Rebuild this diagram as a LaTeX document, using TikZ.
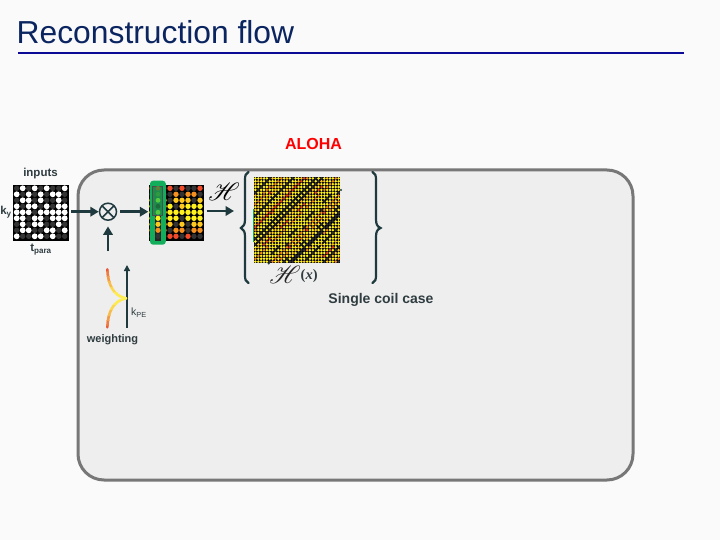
\documentclass[tikz,border=0pt]{standalone}
\usepackage{fontspec}
\usepackage{mathrsfs}
\setmainfont{Liberation Sans}
\newfontfamily\serifbf{Liberation Serif}
\usetikzlibrary{arrows.meta,calc}
\definecolor{slidebg}{HTML}{FAFAFB}
\definecolor{panel}{HTML}{EEEEEE}
\definecolor{panelline}{HTML}{777777}
\definecolor{ink}{HTML}{1F3A3F}
\definecolor{txt}{HTML}{2F3C40}
\definecolor{titleblue}{HTML}{0B2560}
\definecolor{rulenavy}{HTML}{0A0A96}
\definecolor{hk0}{HTML}{333333}
\definecolor{hk1}{HTML}{F04A2A}
\definecolor{hk2}{HTML}{F59020}
\definecolor{hk3}{HTML}{FFC820}
\definecolor{hk4}{HTML}{FFF01F}
\definecolor{greenbar}{HTML}{12AE5C}
\definecolor{greeninner}{HTML}{1E8A4C}
\definecolor{gdotA}{HTML}{5F7F3A}
\definecolor{gdotB}{HTML}{2F9A40}
\definecolor{gdotC}{HTML}{55C840}
\definecolor{gdotD}{HTML}{1D6A3A}
\tikzset{
  x=1pt,y=-1pt,
  framebox/.style={draw=none,fill=black,inner sep=0pt,minimum width=#1,minimum height=#1},
  flowarrow/.style={draw=ink,line width=2.7pt,-{Triangle[length=8.5pt,width=9.5pt]}},
  thinarrow/.style={draw=ink,line width=1.5pt,-{Triangle[length=6pt,width=6pt]}},
  bracepath/.style={draw=ink,line width=2.2pt,line cap=round},
  boldlabel/.style={font=\bfseries\fontsize{#1}{#1}\selectfont,text=txt,inner sep=0pt},
}
\newcommand{\maskdata}{0,1,0,1,0,1,0,0,1,
1,0,1,0,1,0,1,1,0,
0,1,1,0,1,0,0,1,0,
1,0,1,1,0,1,0,1,1,
1,1,1,0,1,1,1,1,1,
1,1,0,1,1,0,1,1,1,
0,1,0,1,1,0,0,1,0,
0,1,1,0,0,1,1,0,1,
1,0,0,1,1,0,1,0,0}
\newcommand{\colordata}{1,0,0,1,0,1,0,0,1,
0,2,0,0,2,0,2,2,0,
3,0,3,0,3,3,3,0,3,
4,0,3,4,0,3,4,4,4,
4,4,4,4,4,4,4,4,4,
4,4,4,4,4,0,4,4,4,
3,3,3,3,0,3,0,3,3,
2,0,2,0,2,2,0,2,2,
0,1,0,1,1,0,1,0,0}
\newcommand{\hankeldata}{4,3,4,2,4,4,1,4,3,
4,4,0,4,3,4,4,2,4,
3,4,4,4,4,0,4,4,4,
4,2,4,0,4,4,3,4,1,
4,4,3,4,2,4,4,0,4,
0,3,1,0,4,2,0,4,0,
4,4,4,3,4,4,0,4,3,
4,0,4,4,4,2,4,4,4,
2,4,4,1,4,4,4,3,4,
4,3,0,4,4,0,4,4,2,
1,4,4,4,0,4,3,4,0}
\begin{document}
\begin{tikzpicture}
\fill[slidebg] (0,0) rectangle (720,540);
\useasboundingbox (0,0) rectangle (720,540);

% title
\node[anchor=base west,inner sep=0pt,text=titleblue,font=\fontsize{31.8}{32}\selectfont] (title) at (16.5,43.5) {Reconstruction flow};
\coordinate (ruleL) at (18,53.5);
\coordinate (ruleR) at (684,53.5);
\draw[rulenavy,line width=2pt] (ruleL) -- (ruleR);

% panel
\node[draw=panelline,fill=panel,line width=3pt,rounded corners=26pt,inner sep=0pt,minimum width=555pt,minimum height=310pt] (panelbox) at (355.5,325) {};
\node[font=\bfseries\fontsize{16}{16}\selectfont,text=red,inner sep=0pt] (aloha) at (313.5,143.5) {ALOHA};

% input mask
\node[framebox=56pt] (inp) at (41,213) {};
\foreach \r in {0,...,8}{\foreach \c in {0,...,8}{
  \pgfmathtruncatemacro{\v}{{\maskdata}[\r*9+\c]}
  \ifnum\v=1 \fill[white] (16.7+6*\c,188.3+6*\r) circle (2.9);
  \else \fill[hk0] (16.7+6*\c,188.3+6*\r) circle (2.7); \fi
}}
\node[boldlabel=11.5] (inputs) at (40.5,174) {inputs};
\node[boldlabel=11.5] (ky) at (6,212.5) {k\textsubscript{y}};
\node[boldlabel=11.5] (tpara) at (41,249.5) {t\textsubscript{para}};

% otimes
\node[circle,draw=ink,line width=1.5pt,minimum size=17pt,inner sep=0pt] (ot) at (108,211.7) {};
\draw[ink,line width=1.5pt] ($(ot)+(-5.6,-5.6)$) -- ($(ot)+(5.6,5.6)$);
\draw[ink,line width=1.5pt] ($(ot)+(-5.6,5.6)$) -- ($(ot)+(5.6,-5.6)$);

% colour matrix
\node[framebox=55pt] (cm) at (176,213) {};
\foreach \r in {0,...,8}{\foreach \c in {0,...,8}{
  \pgfmathtruncatemacro{\v}{{\colordata}[\r*9+\c]}
  \fill[hk\v] (152+6*\c,188.3+6*\r) circle (2.7);
}}
\node[fill=greenbar,rounded corners=3pt,inner sep=0pt,minimum width=15.7pt,minimum height=64pt] (gbar) at (157.9,212.7) {};
\node[fill=black!85,inner sep=0pt,minimum width=5.4pt,minimum height=27pt] (gstrip) at (158,227.5) {};
\node[draw=black!70,fill=greeninner,line width=0.6pt,inner sep=0pt,minimum width=9.6pt,minimum height=29.7pt] (ginner) at (157.5,200.8) {};
\fill[gdotA] (158,188.3) circle (2.4);
\fill[gdotB] (158,194.3) circle (2.4);
\fill[gdotC] (158,200.3) circle (2.4);
\fill[gdotD] (158,206.3) circle (2.4);
\fill[gdotC] (158,212.3) circle (2.4);
\fill[hk4] (158,218.3) circle (2.6);
\fill[hk3] (158,224.3) circle (2.6);
\fill[hk2] (158,230.3) circle (2.6);
\fill[hk0] (158,236.3) circle (2.6);

% Hankel matrix
\node[framebox=86pt] (hm) at (297,220) {};
\foreach \i in {0,...,29}{\foreach \j in {0,...,29}{
  \pgfmathtruncatemacro{\rr}{mod(\i,6)+mod(\j,6)}
  \pgfmathtruncatemacro{\cc}{int(\i/6)+int(\j/6)}
  \pgfmathtruncatemacro{\v}{{\hankeldata}[\rr*9+\cc]}
  \fill[hk\v] (255.4+2.87*\j,178.4+2.87*\i) circle (1.4);
}}
\coordinate (gl1) at (253.3,209);
\coordinate (gl2) at (253.3,241.7);
\draw[greenbar!80!teal,line width=0.7pt] (gl1) -- (gl2);
\fill[ink] (341,190) circle (1.2);
\fill[ink] (268.7,263.5) circle (1.2);

% arrows
\draw[flowarrow] (inp.east |- ot) ++(2,0) -- (ot.west);
\coordinate (a2s) at (120.3,211.7);
\draw[flowarrow] (a2s) -- (cm.west |- a2s);
\coordinate (a3s) at (206.5,211);
\coordinate (a3e) at (234,211);
\draw[flowarrow] (a3s) -- (a3e);
\coordinate (a4s) at (108,251);
\draw[flowarrow] (a4s) -- ($(ot.south)+(0,5.5)$);

% H labels
\node[inner sep=0pt,font=\fontsize{25}{25}\selectfont] (hlab) at (224,192) {$\mathscr{H}$};
\node[inner sep=0pt,font=\fontsize{24}{24}\selectfont,text=black!85] (hxa) at (285,275) {$\mathscr{H}$};
\node[inner sep=0pt,anchor=west,font=\serifbf\bfseries\fontsize{14.5}{14.5}\selectfont,text=txt] (hxb) at (300.5,276) {(\textit{x})};

% braces
\draw[bracepath] (248.5,172) .. controls (245.5,173) and (245,176) .. (245,180) -- (245,219) .. controls (245,224) and (244,226.5) .. (241,228) .. controls (244,229.5) and (245,232) .. (245,237) -- (245,275) .. controls (245,279) and (245.5,282) .. (248.5,283);
\draw[bracepath] (372.5,172) .. controls (375.5,173) and (376,176) .. (376,180) -- (376,219) .. controls (376,224) and (377,226.5) .. (380.5,228) .. controls (377,229.5) and (376,232) .. (376,237) -- (376,275) .. controls (376,279) and (375.5,282) .. (372.5,283);

\node[boldlabel=14] (single) at (381,300) {Single coil case};

% weighting
\coordinate (kb) at (127,327.5);
\coordinate (kt) at (127,265);
\draw[thinarrow] (kb) -- (kt);
\node[inner sep=0pt,text=txt,font=\fontsize{10.5}{10.5}\selectfont] (kpe) at (139,313) {k\textsubscript{PE}};
\node[boldlabel=11] (weight) at (112.5,339.5) {weighting};
\foreach \b/\colr in {0/E85A3C,1/EE7C40,2/F39A45,3/F8BC4A,4/FCD84C,5/FFEB50,6/FFF055}{
  \definecolor{wc}{HTML}{\colr}
  \begin{scope}
    \clip (100,266+\b*5.3) rectangle (130,266+\b*5.3+5.4);
    \draw[wc,line width=2.6pt,line cap=round] (107.3,269.3) .. controls (108,284) and (113,296) .. (126,298.3);
  \end{scope}
  \begin{scope}
    \clip (100,331-\b*5.3) rectangle (130,331-\b*5.3-5.4);
    \draw[wc,line width=2.6pt,line cap=round] (107.3,327.3) .. controls (108,312) and (113,301) .. (126,298.3);
  \end{scope}
}
\end{tikzpicture}
\end{document}
